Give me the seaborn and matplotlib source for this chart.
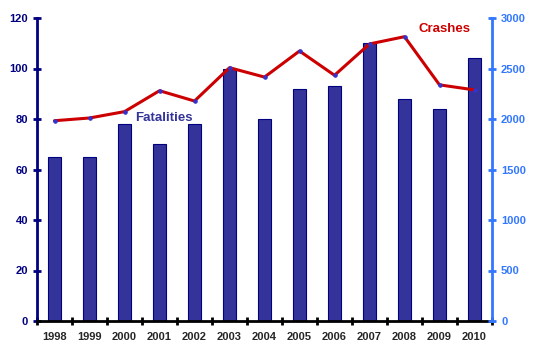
import numpy as np
import pandas as pd
import matplotlib
matplotlib.use("Agg")
import matplotlib.pyplot as plt
import seaborn as sns

years = ["1998", "1999", "2000", "2001", "2002", "2003", "2004",
         "2005", "2006", "2007", "2008", "2009", "2010"]
fatalities = [65, 65, 78, 70, 78, 100, 80, 92, 93, 110, 88, 84, 104]
crashes = [1983, 2010, 2073, 2280, 2178, 2508, 2415, 2673, 2433, 2743, 2815, 2338, 2288]

sns.set_style("white")
plt.rcParams["font.family"] = ["Liberation Sans", "DejaVu Sans"]
plt.rcParams["font.weight"] = "bold"

df = pd.DataFrame({"year": years, "fatalities": fatalities, "crashes": crashes})
df["pos"] = np.arange(len(years))

fig = plt.figure(figsize=(5.35, 3.57), dpi=100)
ax = fig.add_axes([37 / 535, 1 - 321 / 357, 455 / 535, 303 / 357])

sns.barplot(data=df, x="year", y="fatalities", color="#333399", saturation=1,
            width=0.38, edgecolor="#000080", linewidth=0.8, ax=ax)
ax.set_xlim(-0.5, len(years) - 0.5)
ax.set_ylim(0, 120)
ax.set_yticks(range(0, 121, 20))
ax.set_xlabel("")
ax.set_ylabel("")

# crashes on the right-hand axis
ax2 = ax.twinx()
sns.lineplot(data=df, x="pos", y="crashes", color="#CC0000", linewidth=2.2,
             marker="o", markersize=2.5, markerfacecolor="#3333CC",
             markeredgecolor="#3333CC", ax=ax2)
ax2.set_ylim(0, 3000)
ax2.set_yticks(range(0, 3001, 500))
ax2.set_xlim(-0.5, len(years) - 0.5)
ax2.set_ylabel("")
ax2.set_xlabel("")

ax.spines["top"].set_visible(False)
ax2.spines["top"].set_visible(False)
ax.spines["right"].set_visible(False)
ax2.spines["left"].set_visible(False)
ax2.spines["bottom"].set_visible(False)
ax.spines["left"].set_color("#000080")
ax.spines["left"].set_linewidth(2)
ax2.spines["right"].set_color("#3377FF")
ax2.spines["right"].set_linewidth(2)
ax.spines["bottom"].set_color("black")
ax.spines["bottom"].set_linewidth(2)

ax.tick_params(axis="y", direction="inout", length=6, width=2, color="#000080",
               labelcolor="#000080", labelsize=8, left=True)
ax2.tick_params(axis="y", direction="inout", length=6, width=2, color="#3377FF",
                labelcolor="#3377FF", labelsize=8, right=True)
ax.tick_params(axis="x", which="major", length=0, labelsize=8, pad=8)
ax.set_xticks(np.arange(-0.5, len(years), 1.0), minor=True)
ax.tick_params(axis="x", which="minor", direction="inout", length=6, width=2,
               color="black", bottom=True)
for lbl in ax.get_xticklabels() + ax.get_yticklabels() + ax2.get_yticklabels():
    lbl.set_fontweight("bold")

ax.text(3.13, 80.4, "Fatalities", color="#333399", fontsize=9.5, fontweight="bold",
        ha="center", va="center")
ax.text(11.15, 115.5, "Crashes", color="#CC0000", fontsize=9.5, fontweight="bold",
        ha="center", va="center")

fig.savefig("out.png", dpi=100)
